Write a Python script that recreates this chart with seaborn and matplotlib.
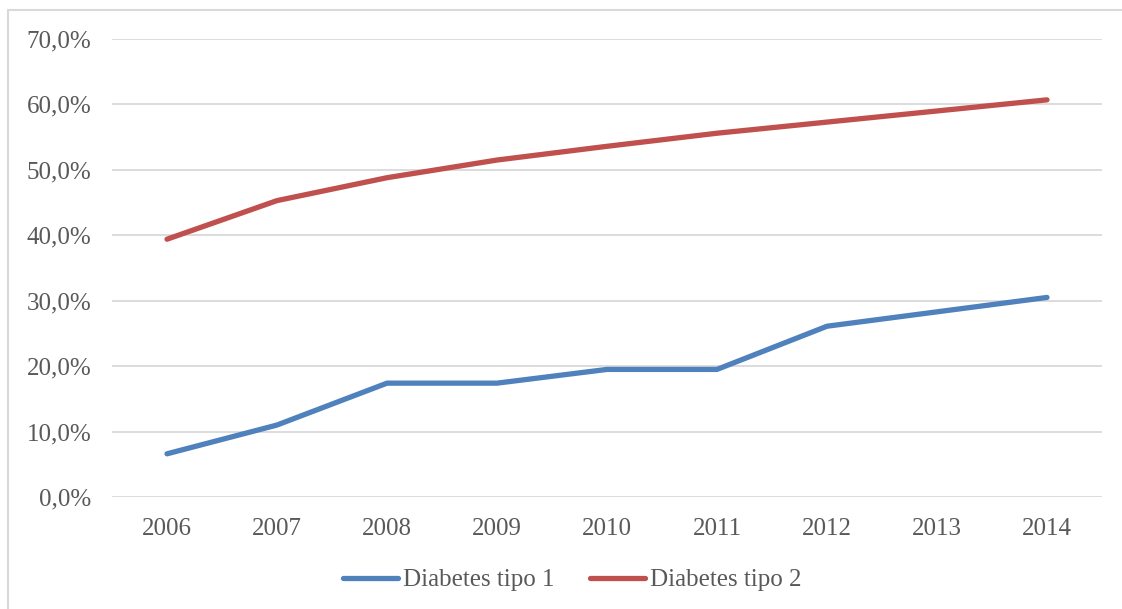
import matplotlib
matplotlib.use("Agg")
import matplotlib.pyplot as plt
import matplotlib.patches as mpatches
import seaborn as sns
import pandas as pd
from matplotlib.ticker import FuncFormatter

years = ["2006", "2007", "2008", "2009", "2010", "2011", "2012", "2013", "2014"]
tipo1 = [6.6, 11.0, 17.4, 17.4, 19.5, 19.5, 26.1, 28.3, 30.5]
tipo2 = [39.4, 45.3, 48.8, 51.5, 53.6, 55.6, 57.3, 59.0, 60.7]
series_names = ["Diabetes tipo 1", "Diabetes tipo 2"]
colors = ["#4F81BD", "#C0504D"]

df = pd.DataFrame({
    "year": years * 2,
    "value": [v / 100 for v in tipo1 + tipo2],
    "serie": [series_names[0]] * len(years) + [series_names[1]] * len(years),
})
df["pos"] = df["year"].map({y: i for i, y in enumerate(years)})

sns.set_theme(style="white")
plt.rcParams["font.family"] = ["Liberation Serif", "DejaVu Serif"]

W, H = 1122, 609
fig = plt.figure(figsize=(W / 100, H / 100), dpi=100)
ax = fig.add_axes([112 / W, 1 - 497 / H, (1102 - 112) / W, (497 - 39) / H])

sns.lineplot(data=df, x="pos", y="value", hue="serie", palette=colors,
             linewidth=3.8, ax=ax, legend=False, solid_capstyle="round")

ax.set_xlim(-0.5, len(years) - 0.5)
ax.set_ylim(0, 0.7)
ax.set_yticks([i / 10 for i in range(8)])
ax.yaxis.set_major_formatter(FuncFormatter(lambda v, _: f"{v * 100:.1f}%".replace(".", ",")))
ax.set_xticks(range(len(years)))
ax.set_xticklabels(years)
ax.grid(axis="y", color="#D9D9D9", linewidth=1.3)
ax.set_axisbelow(True)
for s in ax.spines.values():
    s.set_visible(False)
ax.tick_params(axis="both", length=0, labelsize=18, labelcolor="#595959")
ax.tick_params(axis="y", pad=15)
ax.tick_params(axis="x", pad=15)
ax.set_xlabel("")
ax.set_ylabel("")

handles = [plt.Line2D([], [], color=c, linewidth=3.8, solid_capstyle="round") for c in colors]
fig.legend(handles, series_names, loc="center", bbox_to_anchor=(0.51, 1 - 580 / H),
           ncol=2, frameon=False, fontsize=18, handlelength=2.2, handletextpad=0.2,
           columnspacing=1.4, labelcolor="#595959")

# chart frame
fig.patches.append(mpatches.Rectangle((8 / W, -0.1), 1.2, 1 - 10 / H + 0.1,
                                      transform=fig.transFigure, fill=False,
                                      edgecolor="#D9D9D9", linewidth=1.5))

fig.savefig("out.png", dpi=100)
